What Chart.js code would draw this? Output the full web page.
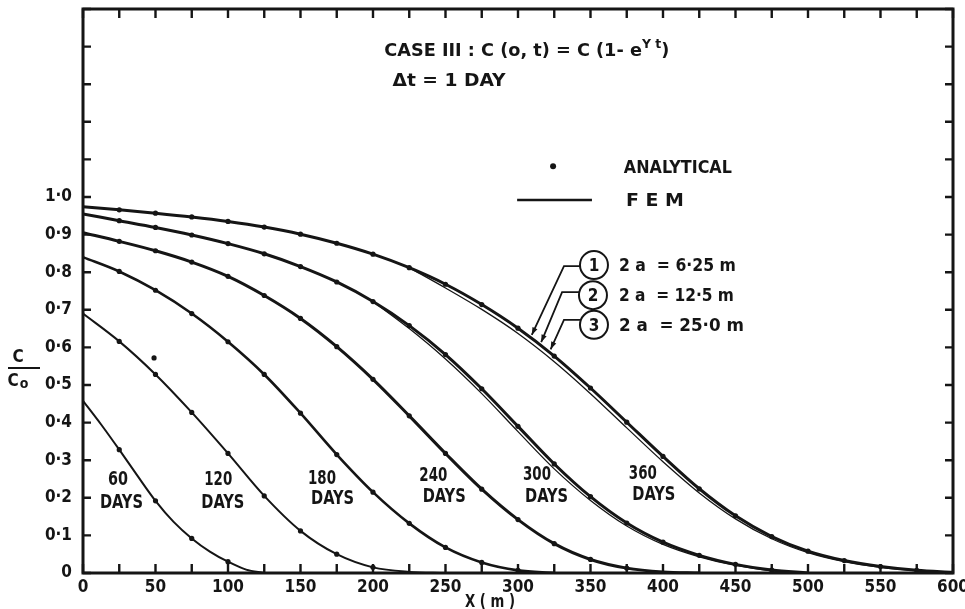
<!DOCTYPE html>
<html>
<head>
<meta charset="utf-8">
<script src="https://cdn.jsdelivr.net/npm/chart.js@4.4.1/dist/chart.umd.min.js"></script>
<style>
  html, body { margin: 0; padding: 0; background: #fff; }
  #wrap { width: 965px; height: 609px; }
</style>
</head>
<body>
<div id="wrap"><canvas id="chart" width="965" height="609"></canvas></div>
<script>
// distance from the source (m) at which the curves were read
const xGrid = [0, 25, 50, 75, 100, 125, 150, 175, 200, 225, 250, 275, 300,
               325, 350, 375, 400, 425, 450, 475, 500, 525, 550, 575, 600];
const x60 = [0, 12.5, 25, 37.5, 50, 62.5, 75, 87.5, 100, 112.5, 125];

// C/Co
const fem60  = [0.458, 0.395, 0.328, 0.259, 0.192, 0.136, 0.092, 0.057, 0.03, 0.009, 0];
const fem120 = [0.69, 0.616, 0.528, 0.427, 0.318, 0.205, 0.112, 0.05, 0.015, 0.003, 0];
const fem180 = [0.84, 0.802, 0.752, 0.69, 0.615, 0.528, 0.425, 0.315, 0.215, 0.132, 0.068, 0.028, 0.007, 0];
const fem240 = [0.905, 0.882, 0.857, 0.827, 0.789, 0.738, 0.677, 0.602, 0.515, 0.418, 0.318, 0.223,
                0.142, 0.078, 0.036, 0.013, 0.003, 0];
const fem300 = [0.955, 0.937, 0.919, 0.899, 0.876, 0.849, 0.815, 0.774, 0.722, 0.658, 0.581, 0.49,
                0.39, 0.29, 0.203, 0.133, 0.082, 0.047, 0.023, 0.008, 0];
const fem360 = [0.974, 0.966, 0.957, 0.947, 0.935, 0.92, 0.901, 0.877, 0.848, 0.812, 0.768, 0.714,
                0.651, 0.577, 0.492, 0.401, 0.31, 0.224, 0.152, 0.097, 0.058, 0.033, 0.017, 0.007, 0.002];
// second (thin) line where the 2a cases separate, starting at x = 200 and 225
const fem300b = [0.722, 0.65, 0.569, 0.477, 0.376, 0.277, 0.193, 0.125, 0.076, 0.043, 0.02, 0.006, 0];
const fem360b = [0.812, 0.758, 0.701, 0.637, 0.562, 0.477, 0.386, 0.296, 0.213, 0.144, 0.091, 0.054,
                 0.03, 0.015, 0.006, 0.001];
// lone analytical dot left of the 120 day curve
const strayX = [49];
const strayY = [0.572];

const ink = '#151515';
const face = '"DejaVu Sans Condensed", "DejaVu Sans", sans-serif';

function pts(xs, ys) {
  return ys.map((y, i) => ({ x: xs[i], y: y }));
}

function femLine(label, xs, ys, width) {
  return {
    label: label,
    data: pts(xs, ys),
    showLine: true,
    borderColor: ink,
    borderWidth: width,
    pointRadius: 0,
    cubicInterpolationMode: 'monotone',
    fill: false
  };
}

// analytical dots sit on the curves every 25 m
const dotData = [];
[[x60, fem60], [xGrid, fem120], [xGrid, fem180], [xGrid, fem240], [xGrid, fem300], [xGrid, fem360]]
  .forEach(([xs, ys]) => ys.forEach((y, i) => {
    if (xs[i] > 0 && xs[i] % 25 === 0 && y >= 0.005) dotData.push({ x: xs[i], y: y });
  }));
strayX.forEach((x, i) => dotData.push({ x: x, y: strayY[i] }));

function fitText(ctx, s, x, cy, size, width, align) {
  ctx.save();
  ctx.font = 'bold ' + size + 'px ' + face;
  const sx = width ? width / ctx.measureText(s).width : 1;
  ctx.translate(x, cy + size * 0.36);
  ctx.scale(sx, 1);
  ctx.textAlign = align || 'center';
  ctx.textBaseline = 'alphabetic';
  ctx.fillStyle = ink;
  ctx.fillText(s, 0, 0);
  ctx.restore();
}

// day labels: [number, X, Y, "DAYS" X, Y]
const dayLabels = [
  ['60', 24.1, 0.253, 26.5, 0.193],
  ['120', 93.3, 0.253, 96.4, 0.192],
  ['180', 164.8, 0.256, 172.1, 0.203],
  ['240', 241.6, 0.265, 249.1, 0.207],
  ['300', 313.1, 0.266, 319.7, 0.207],
  ['360', 386.1, 0.269, 393.7, 0.213]
];
// circled case numbers: [n, X, Y, text, text width, arrow bend X, Y, arrow tip X, Y]
const cases = [
  ['1', 352.4, 0.819, '2 a  = 6·25 m', 117, 331.7, 0.816, 309.5, 0.633],
  ['2', 351.7, 0.739, '2 a  = 12·5 m', 115, 330.4, 0.747, 316, 0.614],
  ['3', 352.4, 0.660, '2 a  = 25·0 m', 125, 331.7, 0.673, 322.5, 0.595]
];

const overlay = {
  id: 'overlay',
  afterDraw(chart) {
    const ctx = chart.ctx;
    const a = chart.chartArea;
    const xs = chart.scales.x, ys = chart.scales.y;
    const at = (X, Y) => [xs.getPixelForValue(X), ys.getPixelForValue(Y)];
    ctx.save();
    ctx.strokeStyle = ink;
    ctx.fillStyle = ink;
    ctx.lineCap = 'butt';

    // inward tick marks on all four sides
    ctx.lineWidth = 2.4;
    ctx.beginPath();
    xs.ticks.forEach(t => {
      const px = xs.getPixelForValue(t.value);
      ctx.moveTo(px, a.bottom); ctx.lineTo(px, a.bottom - 9);
      ctx.moveTo(px, a.top); ctx.lineTo(px, a.top + 9);
    });
    ys.ticks.forEach(t => {
      const py = ys.getPixelForValue(t.value);
      ctx.moveTo(a.left, py); ctx.lineTo(a.left + 8, py);
      ctx.moveTo(a.right, py); ctx.lineTo(a.right - 8, py);
    });
    ctx.stroke();

    // frame
    ctx.lineWidth = 3;
    ctx.strokeRect(a.left, a.top, a.right - a.left, a.bottom - a.top);

    // title lines
    let p = at(207.8, 1.391);
    ctx.save();
    ctx.font = 'bold 17px ' + face;
    const w1 = ctx.measureText('CASE III : C (o, t) = C (1- e').width;
    ctx.font = 'bold 12px ' + face;
    const w2 = ctx.measureText('Y t').width;
    ctx.font = 'bold 17px ' + face;
    const w3 = ctx.measureText(')').width;
    const sx = 285 / (w1 + w2 + w3);
    ctx.translate(p[0], p[1] + 6);
    ctx.scale(sx, 1);
    ctx.textBaseline = 'alphabetic';
    ctx.textAlign = 'left';
    ctx.fillText('CASE III : C (o, t) = C (1- e', 0, 0);
    ctx.fillText(')', w1 + w2, 0);
    ctx.font = 'bold 12px ' + face;
    ctx.fillText('Y t', w1, -8);
    ctx.restore();

    p = at(213.4, 1.311);
    fitText(ctx, 'Δt = 1 DAY', p[0], p[1], 17, 113, 'left');

    // legend
    p = at(324.2, 1.082);
    ctx.beginPath(); ctx.arc(p[0], p[1], 3, 0, Math.PI * 2); ctx.fill();
    p = at(373, 1.08);
    fitText(ctx, 'ANALYTICAL', p[0], p[1], 18, 108, 'left');
    const l0 = at(299.4, 0.992), l1 = at(351, 0.992);
    ctx.lineWidth = 2.6;
    ctx.beginPath(); ctx.moveTo(l0[0], l0[1]); ctx.lineTo(l1[0], l1[1]); ctx.stroke();
    p = at(374.4, 0.992);
    fitText(ctx, 'F E M', p[0], p[1], 18, 58, 'left');

    // circled case numbers with leaders
    cases.forEach(c => {
      const cp = at(c[1], c[2]);
      ctx.lineWidth = 2;
      ctx.beginPath(); ctx.arc(cp[0], cp[1], 14, 0, Math.PI * 2); ctx.stroke();
      fitText(ctx, c[0], cp[0], cp[1], 17, 0, 'center');
      const tp = at(369.6, c[2]);
      fitText(ctx, c[3], tp[0], cp[1], 17, c[4], 'left');
      const bp = at(c[5], c[6]), tip = at(c[7], c[8]);
      ctx.lineWidth = 1.8;
      ctx.beginPath();
      ctx.moveTo(cp[0] - 14, bp[1]);
      ctx.lineTo(bp[0], bp[1]);
      ctx.lineTo(tip[0], tip[1]);
      ctx.stroke();
      const ang = Math.atan2(tip[1] - bp[1], tip[0] - bp[0]);
      ctx.beginPath();
      ctx.moveTo(tip[0], tip[1]);
      ctx.lineTo(tip[0] - 8 * Math.cos(ang - 0.35), tip[1] - 8 * Math.sin(ang - 0.35));
      ctx.lineTo(tip[0] - 8 * Math.cos(ang + 0.35), tip[1] - 8 * Math.sin(ang + 0.35));
      ctx.closePath();
      ctx.fill();
    });

    // day labels
    dayLabels.forEach(d => {
      let q = at(d[1], d[2]);
      fitText(ctx, d[0], q[0], q[1], 20, d[0].length === 2 ? 20 : 28, 'center');
      q = at(d[3], d[4]);
      fitText(ctx, 'DAYS', q[0], q[1], 20, 43, 'center');
    });

    // axis titles
    fitText(ctx, 'C', a.left - 65, 356, 17, 0, 'center');
    ctx.lineWidth = 2;
    ctx.beginPath(); ctx.moveTo(a.left - 75, 368); ctx.lineTo(a.left - 43, 368); ctx.stroke();
    fitText(ctx, 'C', a.left - 70, 380, 17, 0, 'center');
    fitText(ctx, 'o', a.left - 59, 383, 14, 0, 'center');
    fitText(ctx, 'X ( m )', 490, 601, 18, 50, 'center');

    ctx.restore();
  }
};

new Chart(document.getElementById('chart'), {
  type: 'scatter',
  data: {
    datasets: [
      {
        label: 'Analytical',
        data: dotData,
        showLine: false,
        pointRadius: 2.6,
        pointBackgroundColor: ink,
        pointBorderWidth: 0
      },
      femLine('60 days', x60, fem60, 2),
      femLine('120 days', xGrid, fem120, 2),
      femLine('180 days', xGrid, fem180, 2.6),
      femLine('240 days', xGrid, fem240, 3),
      femLine('300 days', xGrid, fem300, 3),
      femLine('300 days (2a = 25 m)', xGrid.slice(8), fem300b, 1.3),
      femLine('360 days', xGrid, fem360, 3),
      femLine('360 days (2a = 25 m)', xGrid.slice(9), fem360b, 1.3)
    ]
  },
  options: {
    responsive: false,
    animation: false,
    devicePixelRatio: 1,
    layout: { padding: { top: 9, right: 12, left: 0, bottom: 0 } },
    plugins: { legend: { display: false }, tooltip: { enabled: false } },
    scales: {
      x: {
        type: 'linear',
        min: 0,
        max: 600,
        border: { display: false },
        grid: { display: false, drawTicks: false },
        ticks: {
          stepSize: 25,
          autoSkip: false,
          maxRotation: 0,
          padding: 4,
          color: ink,
          font: { family: face, size: 17, weight: 'bold' },
          callback: v => (Math.round(v) % 50 === 0 ? String(Math.round(v)) : '')
        },
        afterFit: s => { s.height = 36; s.paddingLeft = 0; s.paddingRight = 0; }
      },
      y: {
        type: 'linear',
        min: 0,
        max: 1.5,
        border: { display: false },
        grid: { display: false, drawTicks: false },
        ticks: {
          stepSize: 0.1,
          autoSkip: false,
          padding: 11,
          color: ink,
          font: { family: face, size: 17, weight: 'bold' },
          callback: v => (v > 1.05 ? '' : v < 0.05 ? '0' : v.toFixed(1).replace('.', '·'))
        },
        afterFit: s => { s.width = 83; s.paddingTop = 0; s.paddingBottom = 0; }
      }
    }
  },
  plugins: [overlay]
});
</script>
</body>
</html>
